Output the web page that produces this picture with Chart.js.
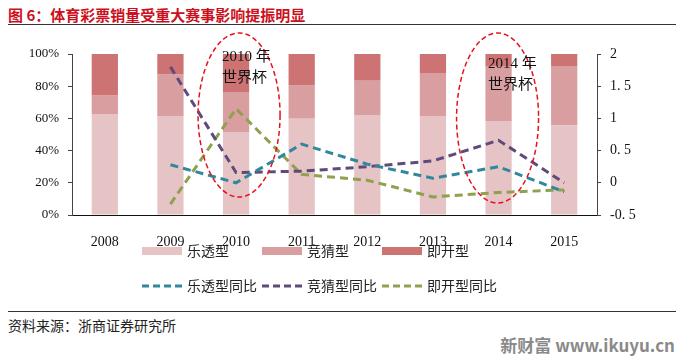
<!DOCTYPE html>
<html>
<head>
<meta charset="utf-8">
<script src="https://cdn.jsdelivr.net/npm/chart.js@4/dist/chart.umd.min.js"></script>
<style>
    body { margin: 0; width: 681px; height: 358px; background: #fff; position: relative; overflow: hidden; }
    #chart { position: absolute; left: 0; top: 0; }
    .title { position: absolute; left: 8px; top: 4px; font: bold 15px "Noto Sans CJK SC", sans-serif; color: #cc1020; }
    .rule { position: absolute; left: 8px; width: 668px; height: 1px; background: #333; }
    .source { position: absolute; left: 8px; top: 315px; font: 14px "Noto Sans CJK SC", sans-serif; color: #222; }
    .mark { position: absolute; right: 6px; top: 332px; font: bold 17px "Noto Sans CJK SC", sans-serif; color: #8a8a8a; }
</style>
</head>
<body>
<div class="title">图 6：体育彩票销量受重大赛事影响提振明显</div>
<div class="rule" style="top:24px"></div>
<canvas id="chart" width="681" height="300"></canvas>
<div class="rule" style="top:311px"></div>
<div class="source">资料来源：浙商证券研究所</div>
<div class="mark">新财富 www.ikuyu.cn</div>

<script>
// Data
const years = ["2008", "2009", "2010", "2011", "2012", "2013", "2014", "2015"];

// bar shares, %
const lotto   = [62.7, 61.5, 51.6, 59.8, 62.1, 61.5, 58.4, 55.7];
const jingcai = [11.8, 25.7, 24.8, 20.9, 21.3, 26.7, 33.7, 36.8];
const instant = [25.5, 12.8, 23.6, 19.3, 16.6, 11.8, 7.9, 7.5];

// year-on-year growth, right axis
const lottoYoY   = [null, 0.28, 0.00, 0.60, 0.29, 0.07, 0.25, -0.14];
const jingcaiYoY = [null, 1.80, 0.16, 0.18, 0.25, 0.34, 0.66, 0.00];
const instantYoY = [null, -0.33, 1.15, 0.13, 0.04, -0.22, -0.15, -0.11];

const rightTicks = { "-0.5": "-0. 5", "0": "0", "0.5": "0. 5", "1": "1", "1.5": "1. 5", "2": "2" };

// notes on the world cup years
const notes = [
    { idx: 2, lines: ["2010 年", "世界杯"], dx: 3, textX: 222, textY: 57 },
    { idx: 6, lines: ["2014 年", "世界杯"], dx: -1, textX: 488, textY: 64 }
];

const serif = '"Liberation Serif", "Noto Sans CJK SC", serif';

const notesPlugin = {
    id: "notes",
    afterDatasetsDraw(chart) {
        const c = chart.ctx;
        const x = chart.scales.x;
        const area = chart.chartArea;
        c.save();
        notes.forEach(n => {
            const cx = x.getPixelForValue(n.idx) + n.dx;
            const top = area.top - 21;
            const bottom = n.idx === 2 ? 197 : 203;
            c.beginPath();
            c.ellipse(cx, (top + bottom) / 2, 41, (bottom - top) / 2, 0, 0, Math.PI * 2);
            c.strokeStyle = "#e8101c";
            c.lineWidth = 1.5;
            c.setLineDash([5, 3]);
            c.stroke();
            c.setLineDash([]);
            c.fillStyle = "#111";
            c.font = "15px " + serif;
            c.textBaseline = "middle";
            c.textAlign = "left";
            n.lines.forEach((t, i) => c.fillText(t, n.textX, n.textY + i * 21));
        });
        c.restore();
    }
};

// legend: bars on first row, lines on second
const legendPlugin = {
    id: "legendRows",
    afterDraw(chart) {
        const c = chart.ctx;
        const ds = chart.data.datasets;
        const cols = [142, 262, 382];
        c.save();
        c.font = '14px "Noto Sans CJK SC", sans-serif';
        c.textBaseline = "middle";
        ds.forEach((d, i) => {
            const row = d.type === "line" ? 1 : 0;
            const x = cols[i % 3];
            const y = row ? 286 : 251;
            if (row === 0) {
                c.fillStyle = d.backgroundColor;
                c.fillRect(x, y - 4, 40, 8);
            } else {
                c.strokeStyle = d.borderColor;
                c.lineWidth = 3;
                c.setLineDash([7, 4]);
                c.beginPath();
                c.moveTo(x, y);
                c.lineTo(x + 40, y);
                c.stroke();
                c.setLineDash([]);
            }
            c.fillStyle = "#222";
            c.fillText(d.label, x + 45, y);
        });
        c.restore();
    }
};

const lineStyle = {
    type: "line",
    yAxisID: "y1",
    borderWidth: 3,
    borderDash: [8, 5],
    pointRadius: 0,
    fill: false,
    tension: 0,
    order: 0
};

new Chart(document.getElementById("chart"), {
    data: {
        labels: years,
        datasets: [
            { type: "bar", label: "乐透型", data: lotto, backgroundColor: "#e6c4c5", yAxisID: "y", order: 1 },
            { type: "bar", label: "竞猜型", data: jingcai, backgroundColor: "#d99e9f", yAxisID: "y", order: 1 },
            { type: "bar", label: "即开型", data: instant, backgroundColor: "#cd7374", yAxisID: "y", order: 1 },
            Object.assign({ label: "乐透型同比", data: lottoYoY, borderColor: "#31879e" }, lineStyle),
            Object.assign({ label: "竞猜型同比", data: jingcaiYoY, borderColor: "#5f4a7c" }, lineStyle),
            Object.assign({ label: "即开型同比", data: instantYoY, borderColor: "#8fa14e" }, lineStyle)
        ]
    },
    options: {
        responsive: false,
        animation: false,
        layout: { padding: { top: 54, left: 0, right: 0, bottom: 0 } },
        datasets: {
            bar: { categoryPercentage: 0.8, barPercentage: 0.5 }
        },
        plugins: {
            legend: { display: false },
            tooltip: { enabled: false }
        },
        scales: {
            x: {
                stacked: true,
                grid: { display: false },
                border: { display: true, color: "#111", width: 1 },
                ticks: { color: "#111", font: { family: serif, size: 14 }, padding: 11, maxRotation: 0 },
                afterFit(s) { s.height = 85; }
            },
            y: {
                stacked: true,
                position: "left",
                min: 0,
                max: 100,
                grid: { drawOnChartArea: false, tickLength: 4, color: "#444" },
                border: { color: "#444", width: 1 },
                ticks: {
                    stepSize: 20,
                    padding: 9,
                    color: "#111",
                    font: { family: serif, size: 13 },
                    callback: v => v + "%"
                },
                afterFit(s) { s.width = 72; }
            },
            y1: {
                position: "right",
                min: -0.5,
                max: 2,
                grid: { drawOnChartArea: false, tickLength: 4, color: "#444" },
                border: { color: "#444", width: 1 },
                ticks: {
                    stepSize: 0.5,
                    padding: 9,
                    color: "#111",
                    font: { family: serif, size: 14 },
                    callback: v => rightTicks[String(v)]
                },
                afterFit(s) { s.width = 84; }
            }
        }
    },
    plugins: [notesPlugin, legendPlugin]
});
</script>
</body>
</html>
